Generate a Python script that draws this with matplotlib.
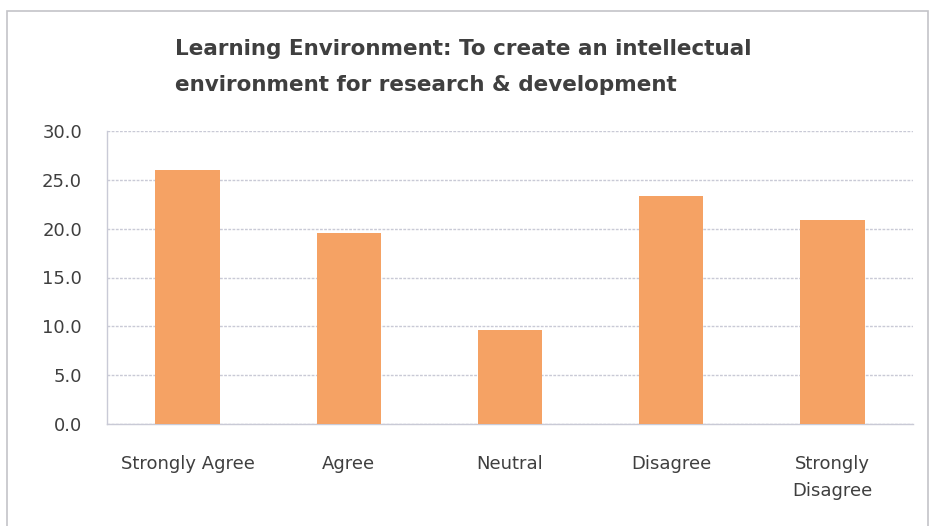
import matplotlib
matplotlib.use('Agg')
import matplotlib.pyplot as plt
from matplotlib.patches import Rectangle

# 数据
categories = ['Strongly Agree', 'Agree', 'Neutral', 'Disagree', 'Strongly\nDisagree']
values = [26.0, 19.6, 9.6, 23.3, 20.9]
yticks = [0, 5, 10, 15, 20, 25, 30]

# 原图横向被拉宽，用较宽的字体
plt.rcParams['font.family'] = ['DejaVu Sans']
text_color = '#3f3f3f'
grid_color = '#c9cad6'

fig = plt.figure(figsize=(9.3, 5.26), dpi=100)
fig.patch.set_facecolor('white')

# 图表外框
fig.patches.append(Rectangle((7 / 930, -0.05), 921 / 930, 1.05 - 11 / 526,
                             transform=fig.transFigure, fill=False,
                             edgecolor='#c4c4c8', linewidth=1.2))

ax = fig.add_axes([107 / 930, 102 / 526, 806 / 930, 293 / 526])
x = range(len(categories))
ax.bar(x, values, width=0.4, color='#F5A264', zorder=3)

ax.set_xlim(-0.5, len(categories) - 0.5)
ax.set_ylim(0, 30)
ax.set_yticks(yticks)
ax.set_yticklabels([f'{v:.1f}' for v in yticks])
ax.set_xticks(list(x))
ax.set_xticklabels(categories)

ax.grid(axis='y', color=grid_color, linewidth=1, linestyle=(0, (2, 1)), zorder=0)
for side in ['top', 'right']:
    ax.spines[side].set_visible(False)
for side in ['left', 'bottom']:
    ax.spines[side].set_color(grid_color)
    ax.spines[side].set_linewidth(1)
    ax.spines[side].set_linestyle((0, (2, 1)))

ax.tick_params(axis='both', length=0, labelsize=13, colors=text_color)
ax.tick_params(axis='y', pad=18)
ax.tick_params(axis='x', pad=22)
for lbl in ax.get_xticklabels():
    lbl.set_linespacing(1.7)

fig.text(175 / 930, 1 - 67 / 526, 'Learning Environment: To create an intellectual\n'
         'environment for research & development',
         ha='left', va='center', fontsize=15.5, fontweight='bold',
         color=text_color, linespacing=2.0)

fig.savefig('out.png', dpi=100)
